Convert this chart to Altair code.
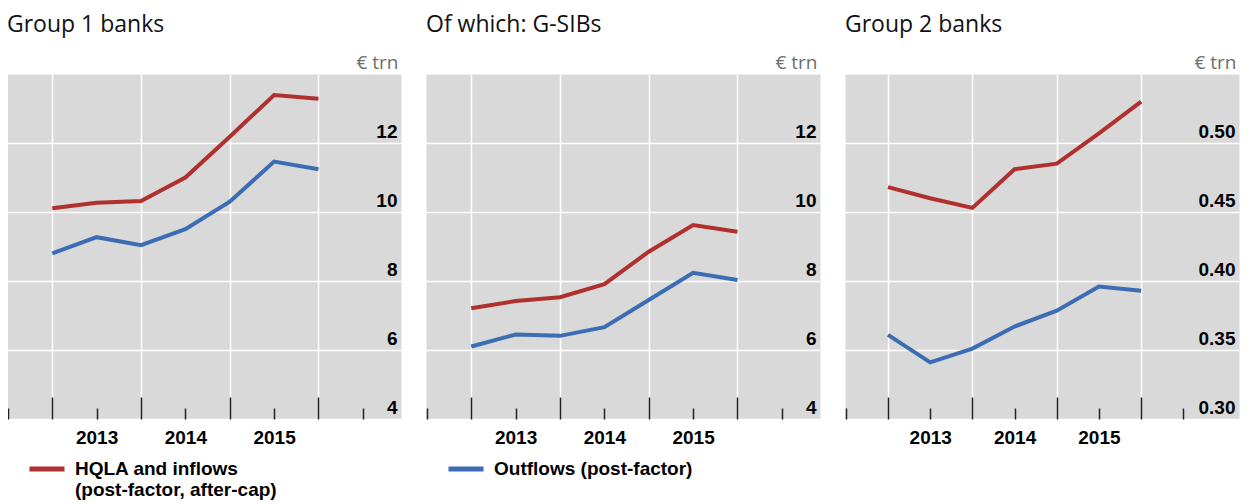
import altair as alt
import pandas as pd

# ---------------- data ----------------
periods = [2013.0, 2013.5, 2014.0, 2014.5, 2015.0, 2015.5, 2016.0]
year_boundaries = [2013, 2014, 2015, 2016]
half_years = [2012.5, 2013.5, 2014.5, 2015.5, 2016.5]
label_positions = [2013.5, 2014.5, 2015.5]

series_hqla = "HQLA and inflows\n(post-factor, after-cap)"
series_out = "Outflows (post-factor)"

titles = ["Group 1 banks", "Of which: G-SIBs", "Group 2 banks"]

g1_hqla = [10.11, 10.27, 10.32, 11.00, 12.18, 13.39, 13.28]
g1_out = [8.80, 9.27, 9.04, 9.50, 10.30, 11.46, 11.24]

gsib_hqla = [7.21, 7.42, 7.53, 7.91, 8.85, 9.62, 9.43]
gsib_out = [6.10, 6.45, 6.41, 6.66, 7.45, 8.24, 8.03]

g2_hqla = [0.468, 0.460, 0.453, 0.481, 0.485, 0.507, 0.530]
g2_out = [0.361, 0.341, 0.351, 0.367, 0.3785, 0.396, 0.393]

trn_ticks = [4, 6, 8, 10, 12]
g2_ticks = [0.30, 0.35, 0.40, 0.45, 0.50]

RED = "#b0302e"
BLUE = "#3c6db4"
W, H = 394, 345
BOLD_FONT = "Liberation Sans"
TITLE_FONT = "Open Sans"


def make_panel(title, hqla, out, xdom, ydom, yticks, yfmt, legend_values):
    df = pd.DataFrame({
        "period": periods + periods,
        "value": hqla + out,
        "series": [series_hqla] * len(periods) + [series_out] * len(periods),
    })
    xscale = alt.Scale(domain=xdom, nice=False, zero=False)
    yscale = alt.Scale(domain=ydom, nice=False, zero=False)

    if legend_values:
        legend = alt.Legend(
            values=legend_values, orient="none", legendX=20, legendY=375,
            title=None, symbolType="stroke", symbolStrokeWidth=5,
            symbolSize=1225, labelFontSize=19, labelFont=BOLD_FONT,
            labelFontWeight="bold", labelColor="#000000",
            labelExpr="split(datum.label, '\\n')", labelOffset=8,
            labelLimit=400, padding=0,
        )
    else:
        legend = None

    lines = alt.Chart(df).mark_line(strokeWidth=4).encode(
        x=alt.X("period:Q", scale=xscale, title=None, axis=alt.Axis(
            orient="bottom", values=label_positions, labelExpr="floor(datum.value)",
            ticks=False, domain=False, grid=False, labelFontSize=19,
            labelFont=BOLD_FONT, labelFontWeight="bold", labelColor="#000000",
            labelPadding=9)),
        y=alt.Y("value:Q", scale=yscale, axis=alt.Axis(
            orient="right", values=yticks, format=yfmt, ticks=False, tickSize=0,
            domain=False, grid=True, gridColor="#ffffff", gridWidth=1.5,
            labelAlign="right", labelBaseline="alphabetic", labelPadding=-4,
            labelOffset=-6, labelFontSize=19, labelFont=BOLD_FONT,
            labelFontWeight="bold", labelColor="#000000",
            title="€ trn", titleAngle=0, titleAlign="right",
            titleBaseline="alphabetic", titleX=-3, titleY=-6,
            titleFont=TITLE_FONT, titleFontSize=19, titleFontWeight="normal",
            titleColor="#6e6e6e")),
        color=alt.Color("series:N", scale=alt.Scale(
            domain=[series_hqla, series_out], range=[RED, BLUE]), legend=legend),
    )

    anchor_df = pd.DataFrame({"period": periods})
    major = alt.Chart(anchor_df).mark_point(opacity=0, size=0).encode(
        x=alt.X("period:Q", scale=xscale, title=None, axis=alt.Axis(
            orient="top", offset=-H, values=year_boundaries, tickSize=22,
            tickWidth=1.5, tickColor="#222222", labels=False, domain=False,
            grid=True, gridColor="#ffffff", gridWidth=1.5)),
    )
    minor = alt.Chart(anchor_df).mark_point(opacity=0, size=0).encode(
        x=alt.X("period:Q", scale=xscale, title=None, axis=alt.Axis(
            orient="top", offset=-H, values=half_years, tickSize=11,
            tickWidth=1.5, tickColor="#222222", labels=False, domain=False,
            grid=False)),
    )

    return alt.layer(major, minor, lines).resolve_axis(x="independent").properties(
        width=W, height=H,
        title=alt.TitleParams(title, anchor="start", font=TITLE_FONT, fontSize=23,
                              fontWeight="normal", color="#111111", offset=16),
    )


p1 = make_panel(titles[0], g1_hqla, g1_out, [2012.49, 2016.93], [4, 14], trn_ticks, "d", [series_hqla])
p2 = make_panel(titles[1], gsib_hqla, gsib_out, [2012.49, 2016.93], [4, 14], trn_ticks, "d", [series_out])
p3 = make_panel(titles[2], g2_hqla, g2_out, [2012.49, 2017.16], [0.30, 0.55], g2_ticks, ".2f", None)

chart = alt.hconcat(p1, p2, p3, spacing=23).resolve_scale(
    x="independent", y="independent", color="independent"
).resolve_legend(color="independent").properties(
    padding={"left": -2, "top": 5, "right": 0, "bottom": 0}
).configure_view(fill="#d9d9d9", stroke="transparent")

chart.save("out.html", embed_options={"renderer": "svg", "actions": False})
